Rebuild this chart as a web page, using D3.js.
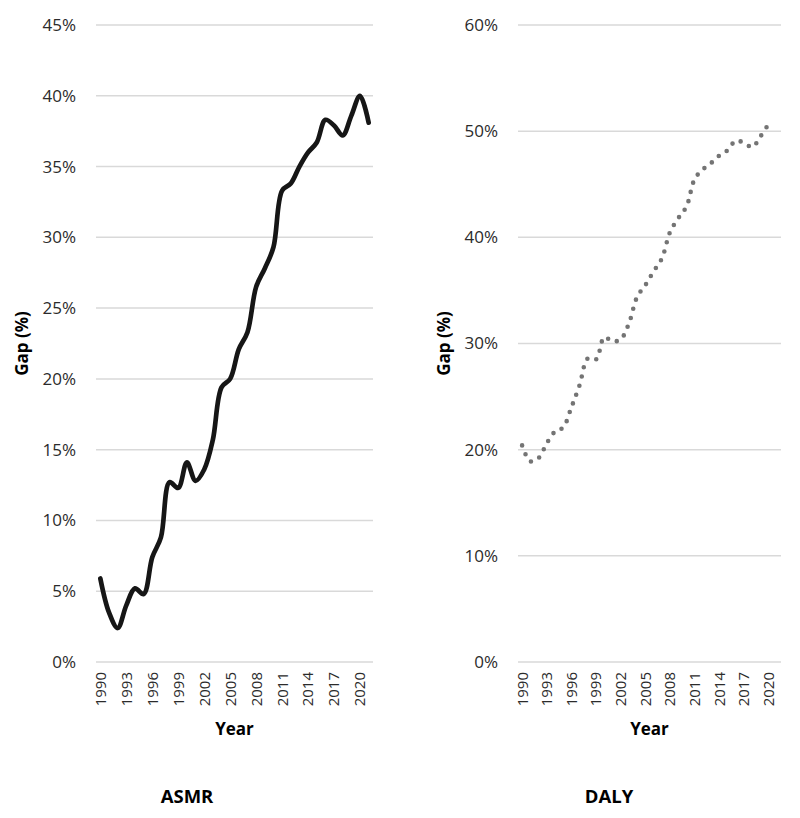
<!DOCTYPE html>
<html>
<head>
<meta charset="utf-8">
<script src="https://cdn.jsdelivr.net/npm/d3@7"></script>
<style>
body { margin: 0; background: #fff; }
text { font-family: "Open Sans", sans-serif; }
</style>
</head>
<body>
<div id="chartArea"></div>
<script>
var years = [1990,1991,1992,1993,1994,1995,1996,1997,1998,1999,
             2000,2001,2002,2003,2004,2005,2006,2007,2008,2009,
             2010,2011,2012,2013,2014,2015,2016,2017,2018,2019,
             2020,2021];
var yearTicks = [1990,1993,1996,1999,2002,2005,2008,2011,2014,2017,2020];

// gap in %
var asmrGap = [5.9,3.5,2.4,4.0,5.2,4.8,7.4,8.8,12.7,12.3,
               14.1,12.8,13.6,15.7,19.4,20.0,22.1,23.3,26.5,27.8,
               29.3,33.3,33.8,35.0,36.0,36.7,38.3,37.9,37.2,38.6,
               40.0,38.1];
var dalyGap = [20.4,18.9,19.2,20.6,21.7,22.1,24.0,26.1,28.6,28.5,
               30.6,30.2,30.4,31.9,34.4,35.5,36.8,38.0,40.5,41.8,
               42.9,45.5,46.4,47.0,47.7,48.2,49.1,48.9,48.5,49.5,
               50.7];

var asmrTicks = [0,5,10,15,20,25,30,35,40,45];
var dalyTicks = [0,10,20,30,40,50,60];

var svg = d3.select('#chartArea').append('svg')
	.attr('width', 800)
	.attr('height', 818);

drawPanel({
	left : 96, right : 373, top : 25, bottom : 662,
	values : asmrGap, yMax : 45, ticks : asmrTicks,
	yLabelX : 22, title : 'ASMR',
	stroke : '#161616', width : 4.7, dash : null
});

drawPanel({
	left : 518, right : 781, top : 25, bottom : 662,
	values : dalyGap, yMax : 60, ticks : dalyTicks,
	yLabelX : 444, title : 'DALY',
	stroke : '#747474', width : 4.6, dash : '0 9.4'
});

function drawPanel(p){
	var g = svg.append('g');

	var x = d3.scaleBand().domain(years).range([p.left, p.right]);
	var y = d3.scaleLinear().domain([0, p.yMax]).range([p.bottom, p.top]);
	var cx = function(yr){ return x(yr) + x.bandwidth()/2; };

	// gridlines
	g.selectAll('.grid').data(p.ticks).enter().append('line')
		.attr('class', 'grid')
		.attr('x1', p.left).attr('x2', p.right)
		.attr('y1', function(d){ return y(d); })
		.attr('y2', function(d){ return y(d); })
		.attr('stroke', '#d9d9d9')
		.attr('stroke-width', 1.5);

	// y axis
	var yAxis = g.append('g')
		.attr('transform', 'translate(' + p.left + ',0)')
		.call(d3.axisLeft(y).tickValues(p.ticks).tickSize(0).tickPadding(20)
			.tickFormat(function(d){ return d + '%'; }));
	yAxis.select('.domain').remove();
	yAxis.selectAll('text')
		.attr('fill', '#2b2b2b')
		.style('font-size', '17px');

	// x axis
	var xAxis = g.append('g')
		.attr('transform', 'translate(0,' + p.bottom + ')')
		.call(d3.axisBottom(x).tickValues(yearTicks).tickSize(0));
	xAxis.select('.domain').remove();
	xAxis.selectAll('text')
		.attr('fill', '#2b2b2b')
		.style('font-size', '15px')
		.attr('transform', 'rotate(-90)')
		.attr('text-anchor', 'end')
		.attr('x', -10)
		.attr('y', 0)
		.attr('dy', '0.36em');

	// axis titles
	g.append('text')
		.attr('x', (p.left + p.right)/2)
		.attr('y', 735)
		.attr('text-anchor', 'middle')
		.style('font-size', '17px')
		.style('font-weight', 'bold')
		.text('Year');

	g.append('text')
		.attr('transform', 'translate(' + p.yLabelX + ',' + (p.top + p.bottom)/2 + ') rotate(-90)')
		.attr('text-anchor', 'middle')
		.attr('dy', '0.36em')
		.style('font-size', '17px')
		.style('font-weight', 'bold')
		.text('Gap (%)');

	g.append('text')
		.attr('x', p.left + 91)
		.attr('y', 803)
		.attr('text-anchor', 'middle')
		.style('font-size', '18.5px')
		.style('font-weight', 'bold')
		.text(p.title);

	// series
	var line = d3.line()
		.x(function(d, i){ return cx(years[i]); })
		.y(function(d){ return y(d); })
		.curve(d3.curveCatmullRom.alpha(0.5));

	var path = g.append('path')
		.datum(p.values)
		.attr('d', line)
		.attr('fill', 'none')
		.attr('stroke', p.stroke)
		.attr('stroke-width', p.width)
		.attr('stroke-linecap', 'round')
		.attr('stroke-linejoin', 'round');
	if(p.dash){
		path.attr('stroke-dasharray', p.dash);
	}
}
</script>
</body>
</html>
